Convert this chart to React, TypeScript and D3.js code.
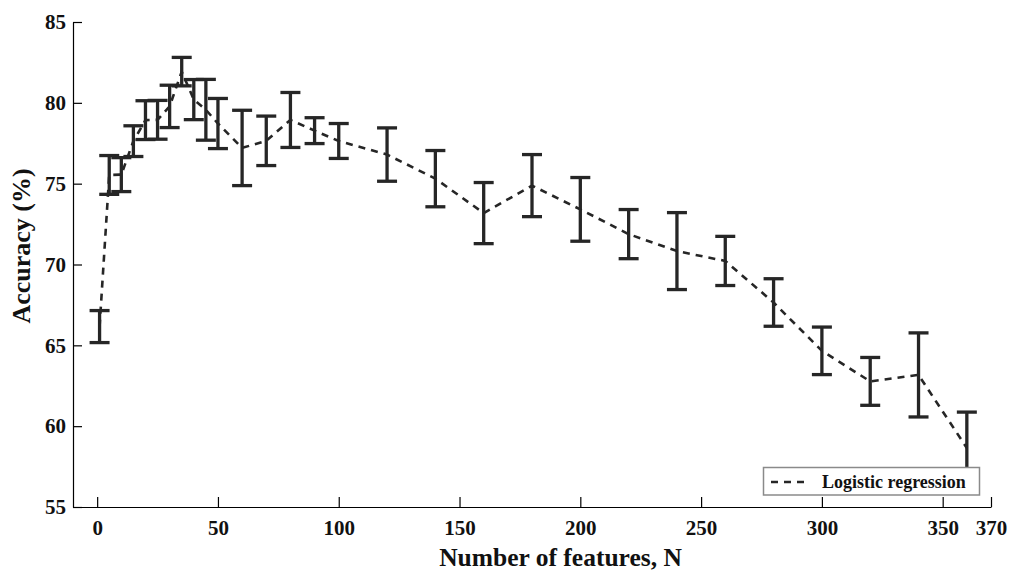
import React, { useEffect, useRef } from "react";
import * as d3 from "d3";

const features = [1, 5, 10, 15, 20, 25, 30, 35, 40, 45, 50, 60, 70, 80, 90, 100, 120, 140, 160, 180, 200, 220, 240, 260, 280, 300, 320, 340, 360];
const accuracy = [66.16, 75.54, 75.56, 77.63, 78.93, 78.95, 79.78, 81.93, 80.2, 79.57, 78.72, 77.21, 77.65, 78.94, 78.28, 77.64, 76.8, 75.31, 73.18, 74.88, 73.41, 71.88, 70.83, 70.22, 67.65, 64.66, 62.77, 63.17, 58.65];
const errors = [0.99, 1.2, 1.05, 0.95, 1.2, 1.2, 1.31, 0.88, 1.24, 1.88, 1.55, 2.33, 1.53, 1.7, 0.8, 1.08, 1.65, 1.74, 1.89, 1.92, 1.97, 1.52, 2.38, 1.52, 1.47, 1.47, 1.48, 2.6, 2.22];
const xTicks = [0, 50, 100, 150, 200, 250, 300, 350, 370];
const yTicks = [55, 60, 65, 70, 75, 80, 85];
const seriesName = "Logistic regression";
const xTitle = "Number of features, N";
const yTitle = "Accuracy (%)";

const W = 1010;
const H = 572;
const FONT = "'Liberation Serif', 'Times New Roman', serif";
const INK = "#262626";

export default function App() {
  const xAxisRef = useRef<SVGGElement>(null);
  const yAxisRef = useRef<SVGGElement>(null);

  const x = d3.scaleLinear().domain([-10, 370]).range([73, 991]);
  const y = d3.scaleLinear().domain([55, 85]).range([507, 22]);

  useEffect(() => {
    const gx = d3.select(xAxisRef.current as SVGGElement);
    gx.call(
      d3.axisBottom(x).tickValues(xTicks).tickSizeInner(-10).tickSizeOuter(0).tickPadding(13).tickFormat(d3.format("d")) as any
    );
    gx.select(".domain").attr("stroke", "#000").attr("stroke-width", 1.2);
    gx.selectAll(".tick line").attr("stroke", "#000").attr("stroke-width", 1.2);
    gx.selectAll(".tick text").attr("font-family", FONT).attr("font-weight", "bold").attr("font-size", 21).attr("fill", "#111");

    const gy = d3.select(yAxisRef.current as SVGGElement);
    gy.call(
      d3.axisLeft(y).tickValues(yTicks).tickSizeInner(-9).tickSizeOuter(0).tickPadding(7).tickFormat(d3.format("d")) as any
    );
    gy.select(".domain").attr("stroke", "#000").attr("stroke-width", 1.2);
    gy.selectAll(".tick line").attr("stroke", "#000").attr("stroke-width", 1.2);
    gy.selectAll(".tick text").attr("font-family", FONT).attr("font-weight", "bold").attr("font-size", 21).attr("fill", "#111");
  }, []);

  const line = d3
    .line<number>()
    .x((_, i) => x(features[i]))
    .y((d) => y(d));

  const capHalf = 10;

  return (
    <svg width={W} height={H} style={{ position: "absolute", left: 0, top: 0, background: "#fff" }}>
      <rect x={0} y={0} width={W} height={H} fill="#fff" />
      <path d={line(accuracy) || ""} fill="none" stroke={INK} strokeWidth={2.6} strokeDasharray="7,6" />
      <g>
        {features.map((f, i) => {
          const cx = x(f);
          const yt = y(accuracy[i] + errors[i]);
          const yb = y(accuracy[i] - errors[i]);
          return (
            <g key={i} stroke={INK} strokeWidth={3.3}>
              <line x1={cx} x2={cx} y1={yt} y2={yb} />
              <line x1={cx - capHalf} x2={cx + capHalf} y1={yt} y2={yt} />
              <line x1={cx - capHalf} x2={cx + capHalf} y1={yb} y2={yb} />
            </g>
          );
        })}
      </g>
      <g ref={xAxisRef} transform={`translate(0,${y(55)})`} />
      <g ref={yAxisRef} transform={`translate(${x(-10)},0)`} />
      <g>
        <rect x={763.5} y={467.5} width={216} height={27.5} fill="#fff" stroke="#8a8a8a" strokeWidth={1.5} />
        <line x1={771} x2={809} y1={482} y2={482} stroke={INK} strokeWidth={2.6} strokeDasharray="7,6" />
        <text x={822} y={487.5} fontFamily={FONT} fontWeight="bold" fontSize={18} fill="#111">
          {seriesName}
        </text>
      </g>
      <text x={560.5} y={566} textAnchor="middle" fontFamily={FONT} fontWeight="bold" fontSize={25.5} fill="#111">
        {xTitle}
      </text>
      <text
        transform={`translate(30,${246}) rotate(-90)`}
        textAnchor="middle"
        fontFamily={FONT}
        fontWeight="bold"
        fontSize={26}
        fill="#111"
      >
        {yTitle}
      </text>
    </svg>
  );
}
